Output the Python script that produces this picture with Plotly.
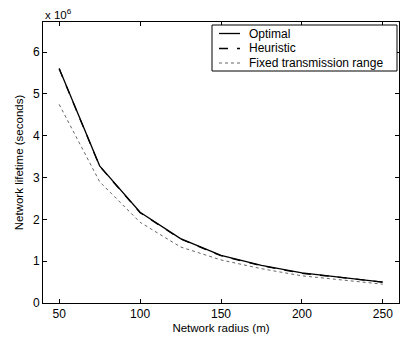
import plotly.graph_objects as go

radius = [50, 75, 100, 125, 150, 175, 200, 225, 250]
optimal = [5.61, 3.28, 2.17, 1.54, 1.14, 0.90, 0.72, 0.61, 0.50]
heuristic = [5.60, 3.27, 2.16, 1.53, 1.13, 0.89, 0.71, 0.60, 0.50]
fixed = [4.75, 2.90, 1.93, 1.34, 1.03, 0.82, 0.65, 0.55, 0.45]
series_names = ["Optimal", "Heuristic", "Fixed transmission range"]

W, H = 400, 338
L, R, T, B = 43, 1, 22, 35
PW, PH = W - L - R, H - T - B

def px(x):
    return (x - L) / PW

def py(y):
    return (H - B - y) / PH

styles = [dict(color="black", width=1.3),
          dict(color="black", width=1.3, dash="dash"),
          dict(color="#666666", width=1, dash="dot")]

fig = go.Figure()
for name, ys, st in zip(series_names, [optimal, heuristic, fixed], styles):
    fig.add_trace(go.Scatter(x=radius, y=ys, mode="lines", name=name, line=st,
                             showlegend=False))

font = dict(family="Liberation Sans, Arial, sans-serif", size=12, color="black")
fig.update_layout(
    width=W, height=H, autosize=False,
    margin=dict(l=L, r=R, t=T, b=B),
    plot_bgcolor="white", paper_bgcolor="white",
    font=font,
    showlegend=False,
    xaxis=dict(range=[40, 260], tickvals=[50, 100, 150, 200, 250],
               ticks="inside", ticklen=4, tickcolor="black",
               showline=True, linecolor="black", linewidth=1, mirror="ticks",
               showgrid=False, zeroline=False,
               title=dict(text="Network radius (m)", font=dict(size=11.5), standoff=3)),
    yaxis=dict(range=[0, 6.72], tickvals=[0, 1, 2, 3, 4, 5, 6],
               ticks="inside", ticklen=4, tickcolor="black",
               showline=True, linecolor="black", linewidth=1, mirror="ticks",
               showgrid=False, zeroline=False,
               title=dict(text="Network lifetime (seconds)", font=dict(size=11.5), standoff=6)),
)
fig.add_annotation(text="x 10<sup>6</sup>", xref="paper", yref="paper", x=0, y=1,
                   xanchor="left", yanchor="bottom", showarrow=False,
                   font=dict(size=11.5), yshift=-1)

# manual legend
fig.add_shape(type="rect", xref="paper", yref="paper",
              x0=px(212), x1=px(397), y0=py(71), y1=py(25),
              line=dict(color="black", width=1), fillcolor="white", layer="above")
rows = [33.5, 48.5, 63]
for name, st, ry in zip(series_names, styles, rows):
    fig.add_shape(type="line", xref="paper", yref="paper",
                  x0=px(219), x1=px(240), y0=py(ry), y1=py(ry),
                  line=st, layer="above")
    fig.add_annotation(text=name, xref="paper", yref="paper", x=px(247), y=py(ry),
                       xanchor="left", yanchor="middle", showarrow=False,
                       font=dict(size=12))

fig.write_html(
    "out.html",
    config={"displayModeBar": False, "responsive": False},
    post_script="document.body.style.margin='0';document.documentElement.style.overflow='hidden';document.body.style.overflow='hidden';",
)
